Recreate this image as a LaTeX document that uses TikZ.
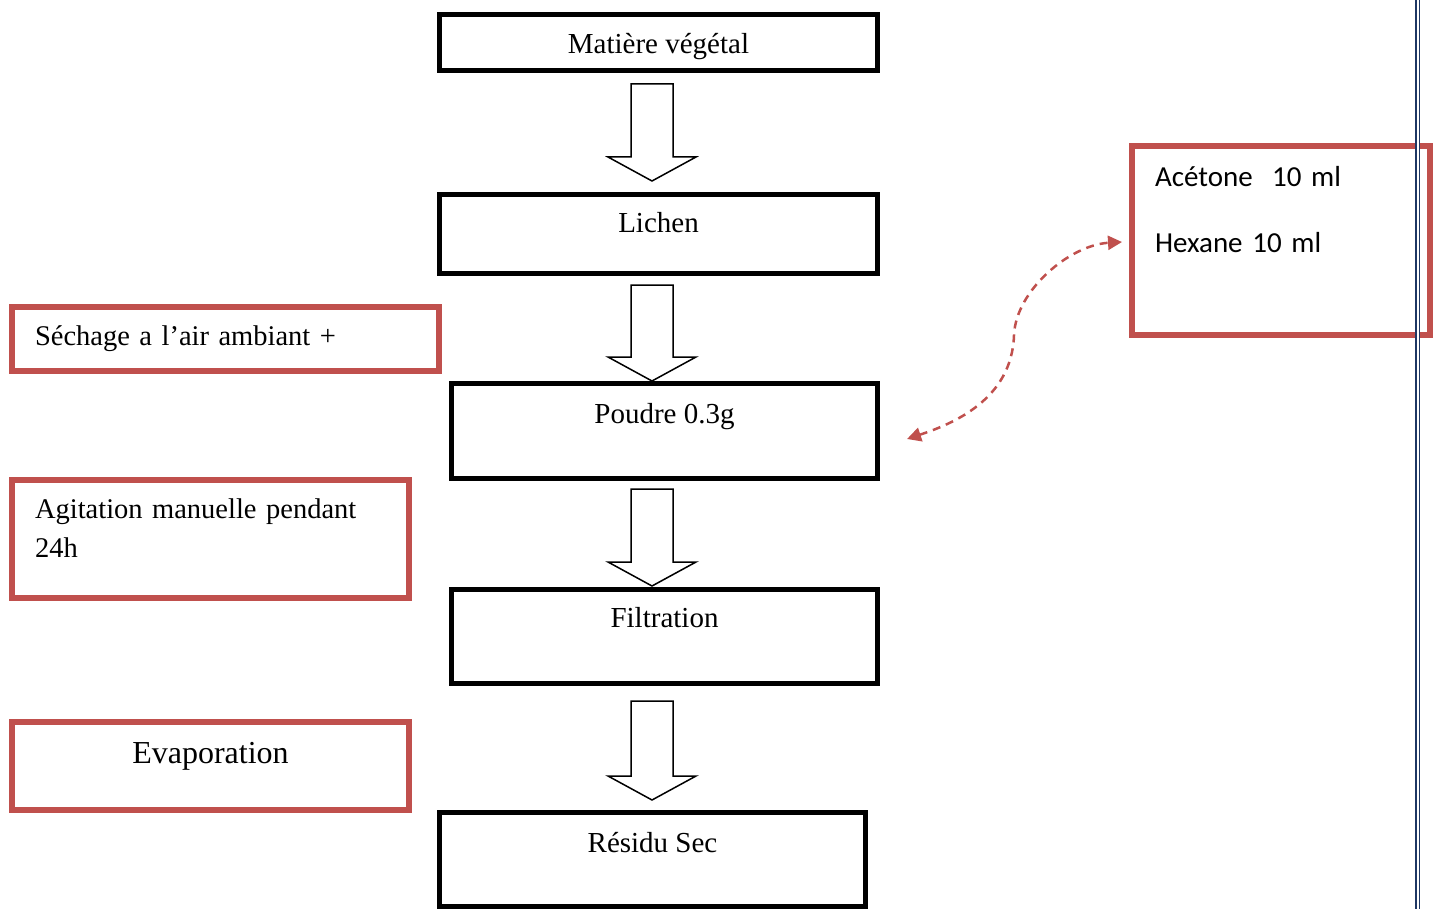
\documentclass[tikz,border=0pt]{standalone}
\usepackage{fontspec}
\setmainfont{Liberation Serif}
\newfontfamily\calibri{Carlito}
\usepackage{tikz}
\usetikzlibrary{positioning, calc}
\usetikzlibrary{arrows.meta}
\definecolor{notered}{RGB}{192,80,77}
\definecolor{pageblue}{RGB}{31,56,100}
\tikzstyle{stepbox}=[rectangle,draw=black,line width=5pt,inner sep=0pt,anchor=base,font=\fontsize{29}{35}\selectfont]
\tikzstyle{notebox}=[rectangle,draw=notered,line width=6pt,inner xsep=23pt,inner ysep=0pt,align=left,anchor=base west,font=\fontsize{28.5}{39}\selectfont]
\tikzstyle{flowarrow}=[draw=black,line width=1.5pt,fill=white,line join=miter]
\tikzstyle{dashpath}=[{Triangle[length=14pt,width=14pt]}-{Triangle[length=14pt,width=14pt]},notered,line width=2.5pt,dash pattern=on 8pt off 6pt]
\tikzstyle{pageline}=[pageblue,line width=1.3pt,double,double distance=1.9pt]

\newcommand{\blockstep}[4]{%
    \path (ax |- #1.south) ++(0,#3) coordinate (#1-top)
          (ax |- #2.north) ++(0,-#4) coordinate (#1-tip);
    \draw[flowarrow] ($(#1-top)+(-21,0)$) -- ($(#1-top)+(21,0)$)
        -- ($(#1-tip)+(21,-24)$) -- ($(#1-tip)+(44,-24)$) -- (#1-tip)
        -- ($(#1-tip)+(-44,-24)$) -- ($(#1-tip)+(-21,-24)$) -- cycle;}

\begin{document}
\begin{tikzpicture}[x=1pt,y=-1pt]
    \useasboundingbox (0,0) rectangle (1439,909);
    \coordinate (ax) at (652,0);

    \node[stepbox, minimum width=438pt, text height=39.5pt, text depth=16.5pt] (mat) at (658.5,54) {Matière végétal};
    \node[stepbox, minimum width=438pt, text height=38.5pt, text depth=40.5pt] (lichen) at (658.5,233) {Lichen};
    \node[stepbox, minimum width=426pt, text height=39.5pt, text depth=55.5pt] (poudre) at (664.5,423) {Poudre 0.3g};
    \node[stepbox, minimum width=426pt, text height=37.5pt, text depth=56.5pt] (filtr) at (664.5,627) {Filtration};
    \node[stepbox, minimum width=426pt, text height=39.5pt, text depth=54.5pt] (residu) at (652.5,852) {Résidu Sec};

    \node[notebox, text width=381pt, text height=38pt, text depth=26pt] (sechage) at (9,345) {Séchage a l’air ambiant +};
    \node[notebox, text width=351pt, text height=38pt, text depth=80pt] (agit) at (9,518) {Agitation manuelle pendant\\24h};
    \node[notebox, text width=351pt, text height=41pt, text depth=47pt, align=center, font=\fontsize{32}{39}\selectfont] (evap) at (9,763) {Evaporation};
    \node[notebox, text width=252pt, text height=40.7pt, text depth=148.3pt, font=\calibri\fontsize{29}{33}\selectfont] (solv) at (1129,186.7) {Acétone\ \ 10 ml\\[33pt]Hexane 10 ml};

    \blockstep{mat}{lichen}{11}{11}
    \blockstep{lichen}{poudre}{9}{0}
    \blockstep{poudre}{filtr}{8}{1}
    \blockstep{filtr}{residu}{15}{10}

    \coordinate (pl) at ($(poudre.east)+(27,8)$);
    \coordinate (sl) at ($(solv.west)+(-7,1.5)$);
    \coordinate (bend) at (1014,335);
    \draw[dashpath] (pl) .. controls +(45,-15) and +(-2,65) .. (bend)
        .. controls +(2,-45) and +(-52,3) .. (sl);

    \draw[pageline] (1417.7,0) -- (1417.7,909);
\end{tikzpicture}
\end{document}
